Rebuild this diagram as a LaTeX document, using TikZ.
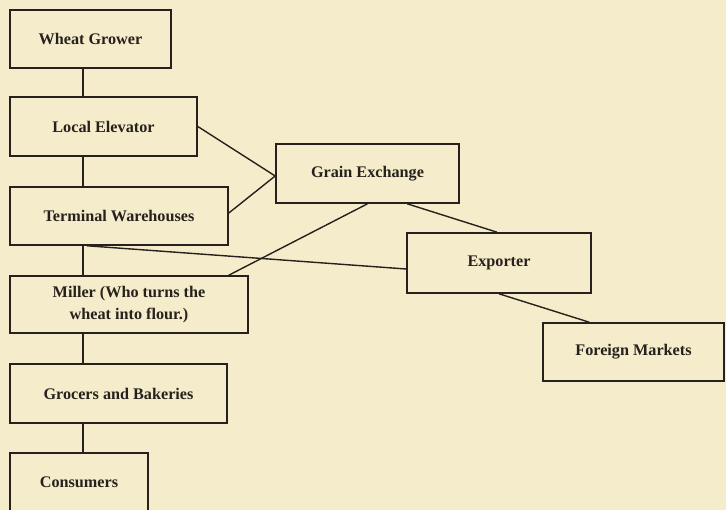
\documentclass[tikz,border=0pt]{standalone}
\usepackage{fontspec}
\setmainfont{Liberation Serif}
\usetikzlibrary{calc}
\definecolor{paper}{RGB}{245,236,203}
\definecolor{ink}{RGB}{38,33,28}
\tikzset{
  stage/.style={draw=ink, line width=1.6pt, rectangle, inner sep=0pt,
    text=ink, font=\fontsize{16.2}{22}\selectfont\bfseries, align=center},
  link/.style={draw=ink, line width=1.4pt}
}
\begin{document}
\begin{tikzpicture}[x=1pt, y=-1pt]
  \fill[paper] (0,0) rectangle (726,510);
  \useasboundingbox (0,0) rectangle (726,510);
  \begin{scope}
  \clip (0,0) rectangle (726,510);
  % main chain on the left
  \node[stage, minimum width=161pt, minimum height=58pt] (wg) at (90.5,39) {Wheat Grower};
  \node[stage, minimum width=187pt, minimum height=59pt] (le) at (103.5,126.5) {Local Elevator};
  \node[stage, minimum width=218pt, minimum height=58pt] (tw) at (119,216) {Terminal Warehouses};
  \node[stage, minimum width=238pt, minimum height=57pt] (mi) at (129,304.5) {Miller (Who turns the\\ wheat into flour.)};
  \node[stage, minimum width=217pt, minimum height=59pt] (gb) at (118.5,393.5) {Grocers and Bakeries};
  \node[stage, minimum width=138pt, minimum height=58pt] (co) at (79,482) {Consumers};
  % trade branch on the right
  \node[stage, minimum width=183pt, minimum height=59pt] (ge) at (367.5,173.5) {Grain Exchange};
  \node[stage, minimum width=184pt, minimum height=60pt] (ex) at (499,263) {Exporter};
  \node[stage, minimum width=181pt, minimum height=58pt] (fm) at (633.5,352) {Foreign Markets};
  \end{scope}
  % vertical spine
  \coordinate (spine) at (83,0);
  \draw[link] (wg.south -| spine) -- (le.north -| spine);
  \draw[link] (le.south -| spine) -- (tw.north -| spine);
  \draw[link] (tw.south -| spine) -- (mi.north -| spine);
  \draw[link] (mi.south -| spine) -- (gb.north -| spine);
  \draw[link] (gb.south -| spine) -- (co.north -| spine);
  % cross links
  \draw[link] (le.east) -- ($(ge.west)+(0,2.5)$);
  \draw[link] ($(tw.east)+(0,-3)$) -- ($(ge.west)+(0,2.5)$);
  \draw[link] ($(tw.south west)+(78,0)$) -- ($(ex.west)+(0,6)$);
  \draw[link] ($(mi.north east)+(-20,0)$) -- (ge.south);
  \draw[link] ($(ge.south west)+(132,0)$) -- ($(ex.north)+(-2,0)$);
  \draw[link] (ex.south) -- ($(fm.north west)+(47,0)$);
\end{tikzpicture}
\end{document}
